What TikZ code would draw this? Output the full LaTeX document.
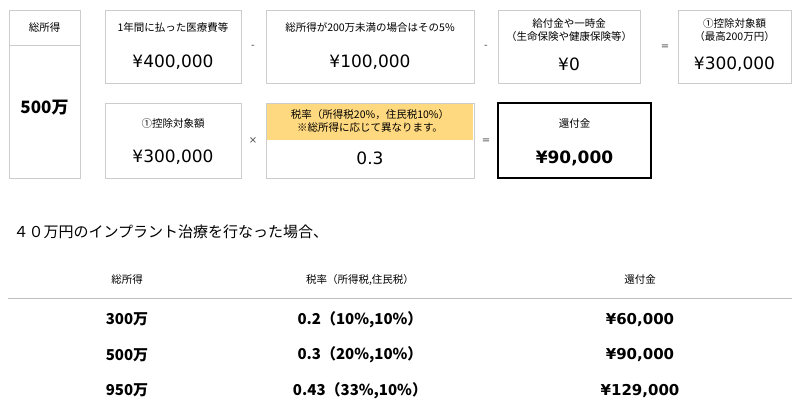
\documentclass[tikz,border=0pt]{standalone}
\usepackage{fontspec}
\setmainfont{DejaVu Sans}
\newfontfamily\cjk{Noto Sans CJK JP}
\tikzset{
  calcbox/.style={draw=black!20, line width=0.8pt, fill=white},
  headtext/.style={font=\cjk\fontsize{10.5}{13.5}\selectfont, align=center},
  valtext/.style={font=\fontsize{17}{20}\selectfont},
  boldval/.style={font=\bfseries\fontsize{17}{20}\selectfont},
  optext/.style={font=\fontsize{10}{12}\selectfont, text=black!70},
  rowtext/.style={font=\bfseries\fontsize{15}{18}\selectfont}
}
\begin{document}
\begin{tikzpicture}[x=1pt,y=-1pt]
        \useasboundingbox (0,0) rectangle (800,417);

        % Income column
        \draw[calcbox] (9,10) rectangle (80,178);
        \draw[black!20, line width=0.8pt] (9,45) -- (80,45);
        \node[headtext] (inchead) at (44.5,28) {総所得};
        \node[font=\cjk\bfseries\fontsize{17}{20}\selectfont] (incval) at (44.5,108) {500万};

        % First row
        \draw[calcbox] (105,10) rectangle (241,83);
        \node[headtext] (medhead) at (173,28) {1年間に払った医療費等};
        \node[valtext] (medval) at (173,62) {¥400,000};
        \draw[calcbox] (266,10) rectangle (474,83);
        \node[headtext] (minhead) at (370,28) {総所得が200万未満の場合はその5\%};
        \node[valtext] (minval) at (370,62) {¥100,000};
        \draw[calcbox] (498,10) rectangle (640,83);
        \node[headtext] (benhead) at (569,30) {給付金や一時金\\（生命保険や健康保険等）};
        \node[valtext] (benval) at (569,64) {¥0};
        \draw[calcbox] (678,10) rectangle (791,83);
        \node[headtext] (dedhead) at (734.5,30) {①控除対象額\\（最高200万円）};
        \node[valtext] (dedval) at (734.5,64) {¥300,000};

        % Operators
        \node[optext] (op1) at (253,47) {-};
        \node[optext] (op2) at (486,47) {-};
        \node[optext] (op3) at (665,47) {=};
        \node[optext] (op4) at (253,141) {×};
        \node[optext] (op5) at (486,141) {=};

        % Second row
        \draw[calcbox] (105,103) rectangle (241,178);
        \node[headtext] (dedhead2) at (173,124) {①控除対象額};
        \node[valtext] (dedval2) at (173,157) {¥300,000};
        \draw[calcbox] (266,103) rectangle (474,178);
        \fill[fill={rgb,255:red,255;green,217;blue,128}] (267,104) rectangle (473,140);
        \node[headtext] (ratehead) at (370,121) {税率（所得税20\%，住民税10\%）\\※総所得に応じて異なります。};
        \node[valtext] (rateval) at (370,158) {0.3};
        \draw[line width=1.5pt] (498,103) rectangle (651,178);
        \node[headtext] (refhead) at (574.5,124) {還付金};
        \node[boldval] (refval) at (574.5,158) {¥90,000};

        % Caption
        \node[anchor=west, font=\cjk\fontsize{15}{18}\selectfont] (caption) at (10,232) {４０万円のインプラント治療を行なった場合、};

        % Table
        \node[headtext] (thinc) at (127,280) {総所得};
        \node[headtext] (thrate) at (360,280) {税率（所得税,住民税）};
        \node[headtext] (thref) at (640,280) {還付金};
        \draw[black!25, line width=0.8pt] (8,298) -- (792,298);
        \foreach \inc/\rate/\refv [count=\i] in {300万/{0.2（10\%,10\%）}/{¥60,000}, 500万/{0.3（20\%,10\%）}/{¥90,000}, 950万/{0.43（33\%,10\%）}/{¥129,000}}{
          \node[font=\cjk\bfseries\fontsize{15}{18}\selectfont] (inc\i) at (127,284+35.5*\i) {\inc};
          \node[font=\cjk\bfseries\fontsize{15}{18}\selectfont] (rate\i) at (360,284+35.5*\i) {\rate};
          \node[rowtext] (ref\i) at (640,284+35.5*\i) {\refv};
        }
\end{tikzpicture}
\end{document}
